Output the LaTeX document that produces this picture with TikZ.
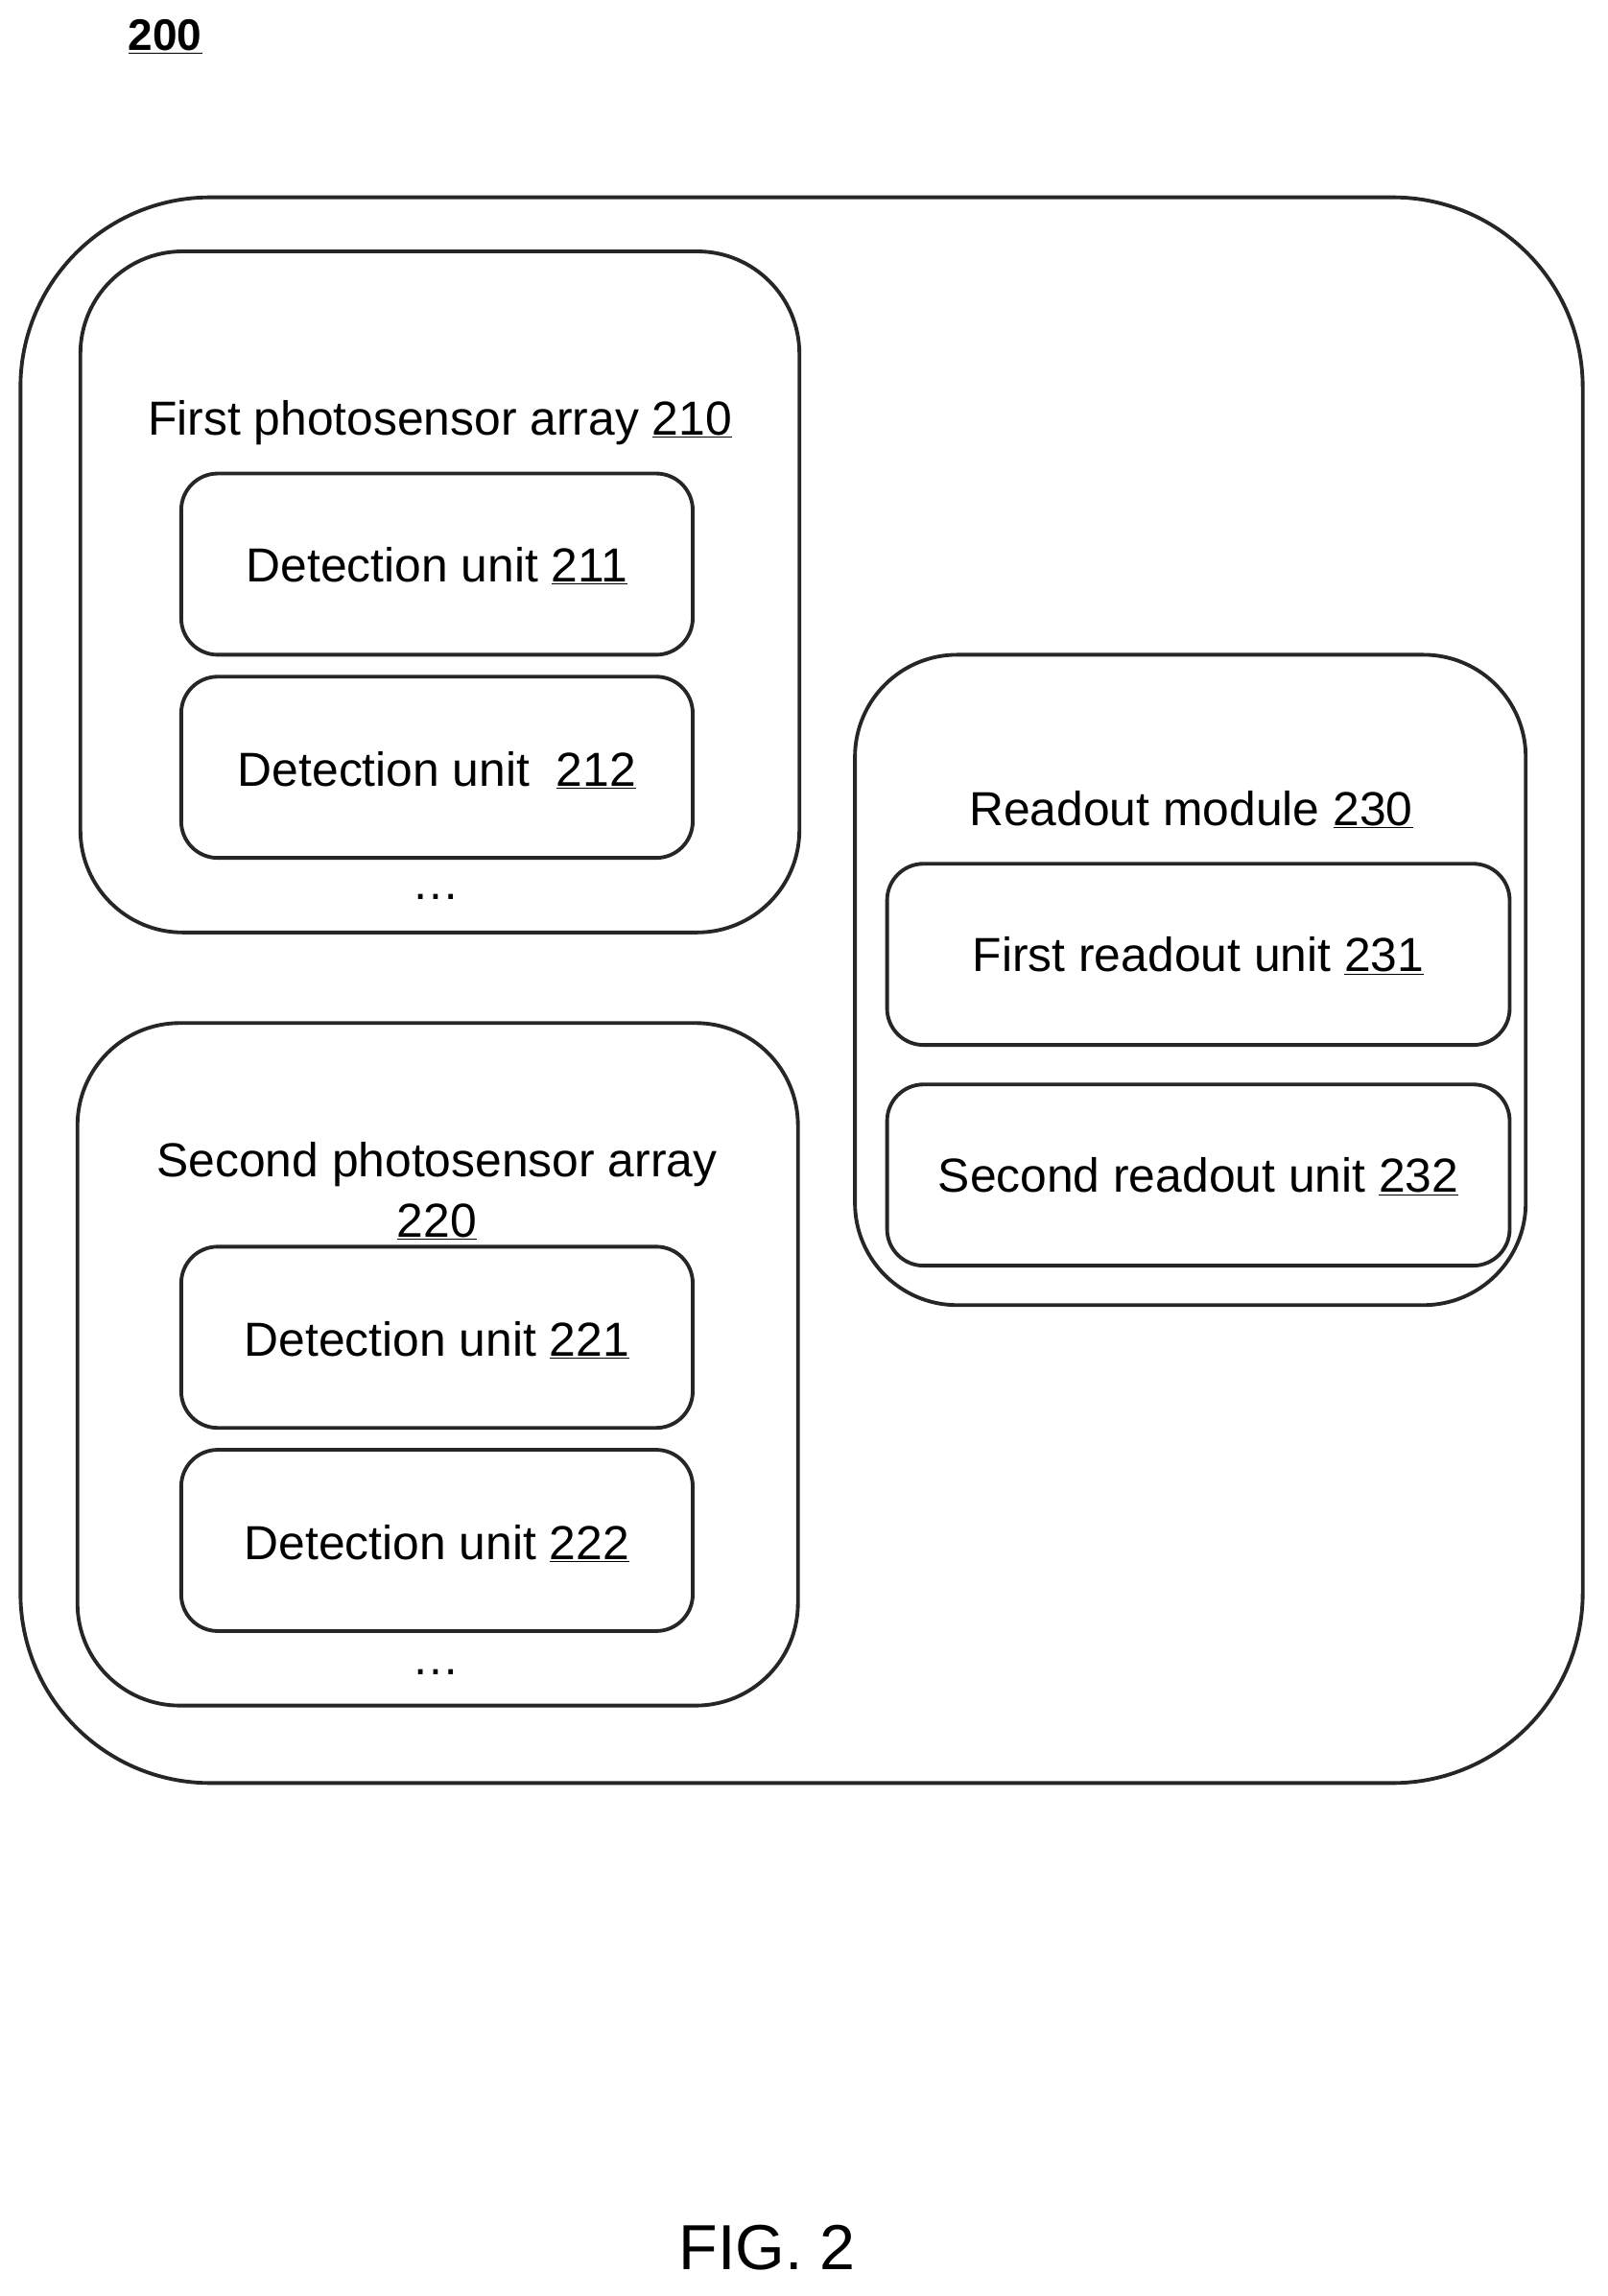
\documentclass[tikz,border=0pt]{standalone}
\usepackage{fontspec}
\setmainfont{Liberation Sans}
\begin{document}
\begin{tikzpicture}[x=0.05cm,y=-0.05cm,
 box/.style={draw=black!85,line width=3.6pt},
 lbl/.style={font=\fontsize{46.5}{54}\selectfont,inner sep=0pt}]
\useasboundingbox (0,0) rectangle (1100,1571);
\draw[box,rounded corners=130*0.05cm] (14,135) rectangle (1083,1220);
\draw[box,rounded corners=70*0.05cm] (55,172) rectangle (547,638);
\draw[box,rounded corners=70*0.05cm] (53,700) rectangle (546,1167);
\draw[box,rounded corners=70*0.05cm] (585,448) rectangle (1044,893);
\foreach \a/\b in {324/448,463/587,853/977,992/1116}
  \draw[box,rounded corners=25*0.05cm] (124,\a) rectangle (474,\b);
\foreach \a/\b in {591/715,742/866}
  \draw[box,rounded corners=25*0.05cm] (607,\a) rectangle (1033,\b);
\node[lbl,font=\fontsize{43}{50}\selectfont\bfseries] (n200) at (113,25) {\underline{200}};
\node[lbl] (t210) at (301,289) {First photosensor array \underline{210}};
\node[lbl] (t211) at (299,387) {Detection unit \underline{211}};
\node[lbl] (t212) at (299,527) {Detection unit\ \ \underline{212}};
\node[lbl] (d1) at (298,614) {\dots};
\node[lbl] (t220) at (299,797) {Second photosensor array};
\node[lbl] (t220b) at (299,836) {\underline{220}};
\node[lbl] (t221) at (299,917) {Detection unit \underline{221}};
\node[lbl] (t222) at (299,1056) {Detection unit \underline{222}};
\node[lbl] (d2) at (298,1144) {\dots};
\node[lbl] (t230) at (815,554) {Readout module \underline{230}};
\node[lbl] (t231) at (820,654) {First readout unit \underline{231}};
\node[lbl] (t232) at (820,805) {Second readout unit \underline{232}};
\node[lbl,font=\fontsize{62}{70}\selectfont] (fig) at (525,1538) {FIG. 2};
\end{tikzpicture}
\end{document}
